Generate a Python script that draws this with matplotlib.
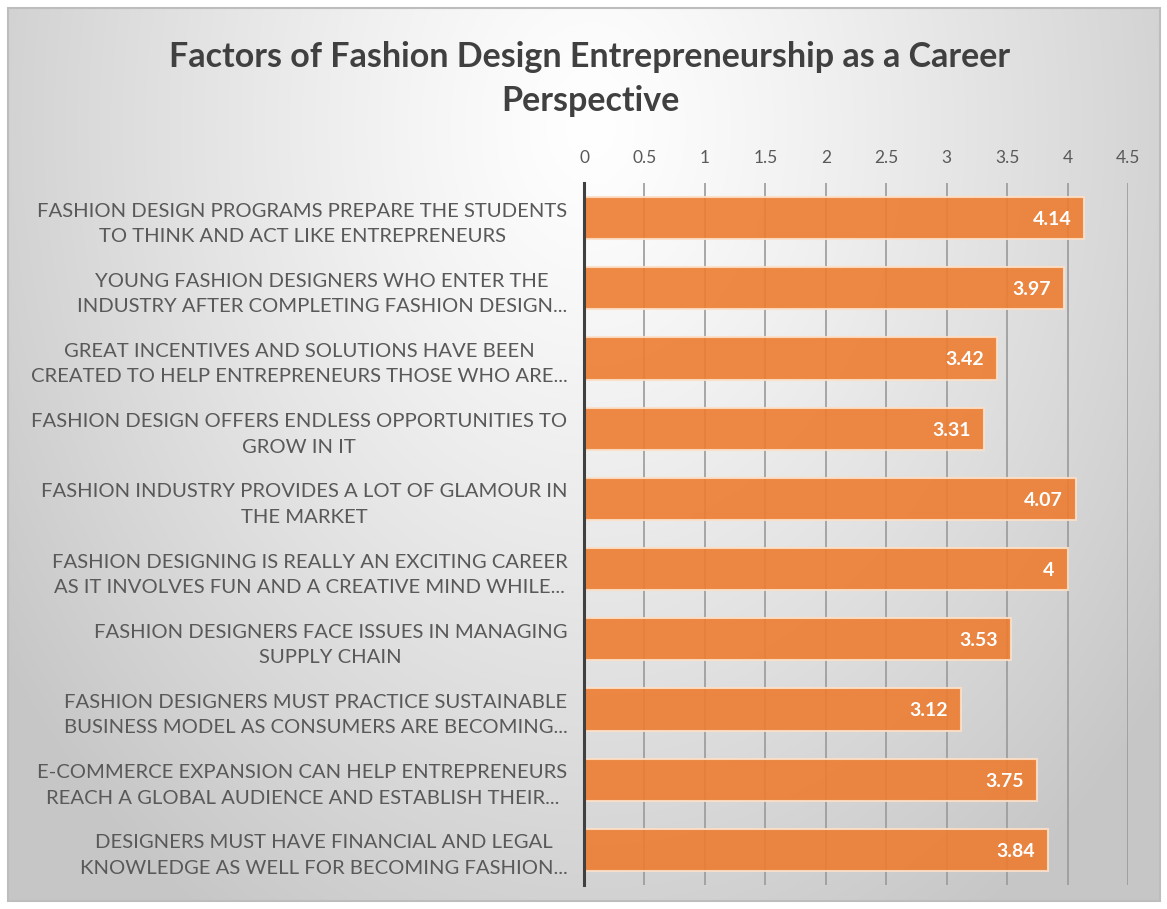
import numpy as np
import matplotlib
matplotlib.use("Agg")
import matplotlib.pyplot as plt

title = "Factors of Fashion Design Entrepreneurship as a Career\nPerspective"
categories = [
    "FASHION DESIGN PROGRAMS PREPARE THE STUDENTS\nTO THINK AND ACT LIKE ENTREPRENEURS",
    "YOUNG FASHION DESIGNERS WHO ENTER THE\nINDUSTRY AFTER COMPLETING FASHION DESIGN...",
    "GREAT INCENTIVES AND SOLUTIONS HAVE BEEN\nCREATED TO HELP ENTREPRENEURS THOSE WHO ARE...",
    "FASHION DESIGN OFFERS ENDLESS OPPORTUNITIES TO\nGROW IN IT",
    "FASHION INDUSTRY PROVIDES A LOT OF GLAMOUR IN\nTHE MARKET",
    "FASHION DESIGNING IS REALLY AN EXCITING CAREER\nAS IT INVOLVES FUN AND A CREATIVE MIND WHILE...",
    "FASHION DESIGNERS FACE ISSUES IN MANAGING\nSUPPLY CHAIN",
    "FASHION DESIGNERS MUST PRACTICE SUSTAINABLE\nBUSINESS MODEL AS CONSUMERS ARE BECOMING...",
    "E-COMMERCE EXPANSION CAN HELP ENTREPRENEURS\nREACH A GLOBAL AUDIENCE AND ESTABLISH THEIR...",
    "DESIGNERS MUST HAVE FINANCIAL AND LEGAL\nKNOWLEDGE AS WELL FOR BECOMING FASHION...",
]
values = [4.14, 3.97, 3.42, 3.31, 4.07, 4, 3.53, 3.12, 3.75, 3.84]
value_labels = ["4.14", "3.97", "3.42", "3.31", "4.07", "4", "3.53", "3.12", "3.75", "3.84"]
xticks = [0, 0.5, 1, 1.5, 2, 2.5, 3, 3.5, 4, 4.5]
xtick_labels = ["0", "0.5", "1", "1.5", "2", "2.5", "3", "3.5", "4", "4.5"]

W, H = 1167, 909
fig = plt.figure(figsize=(W / 100, H / 100), dpi=100)
fig.patch.set_facecolor("white")

# background radial gradient panel
bg = fig.add_axes([0, 0, 1, 1], zorder=-10)
bg.set_xlim(0, W)
bg.set_ylim(H, 0)
bg.axis("off")
yy, xx = np.mgrid[0:H, 0:W]
cx, cy = 590, 120
d = np.sqrt(((xx - cx) / 720.0) ** 2 + ((yy - cy) / 950.0) ** 2)
d = np.clip(d, 0, 1)
val = 1.0 - 0.22 * d ** 1.2
img = np.dstack([val, val, val])
bg.imshow(img, extent=(8, W - 7, H - 8, 8), aspect="auto", interpolation="bilinear")
bg.add_patch(plt.Rectangle((8, 8), W - 15, H - 16, fill=False, edgecolor="#BDBDBD", lw=1.5))

left = 584 / W
right = 1128 / W
top = 1 - 183 / H
bottom = 1 - 885 / H
ax = fig.add_axes([left, bottom, right - left, top - bottom])
ax.patch.set_alpha(0)

y = np.arange(len(values))
ax.barh(y, values, height=0.6, color="#ED7D31", alpha=0.9,
        edgecolor="#FCE0C8", linewidth=1.5, zorder=3)
ax.set_ylim(len(values) - 0.5, -0.5)
ax.set_xlim(0, 4.5)

ax.xaxis.tick_top()
ax.set_xticks(xticks)
ax.set_xticklabels(xtick_labels, fontsize=12.5, color="#595959", family="Lato")
ax.tick_params(axis="x", length=0, pad=12)
ax.set_yticks(y)
ax.set_yticklabels(categories, fontsize=14.6, color="#595959", family="Lato",
                   multialignment="center", linespacing=1.6)
ax.tick_params(axis="y", length=0, pad=12)

ax.grid(axis="x", color="#9A9A9A", linewidth=1.2, zorder=1)
ax.set_axisbelow(True)
for s in ["top", "right", "bottom"]:
    ax.spines[s].set_visible(False)
ax.spines["left"].set_color("#404040")
ax.spines["left"].set_linewidth(2.2)
ax.spines["left"].set_zorder(5)

for yi, v, lab in zip(y, values, value_labels):
    ax.text(v - 0.11, yi + 0.02, lab, ha="right", va="center", color="white",
            fontsize=14, fontweight="bold", family="Lato", zorder=6)

fig.text(590 / W, 1 - 79 / H, title, ha="center", va="center", fontsize=24.5,
         fontweight="bold", color="#404040", family="Lato", linespacing=1.45)

fig.savefig("out.png", dpi=100)
